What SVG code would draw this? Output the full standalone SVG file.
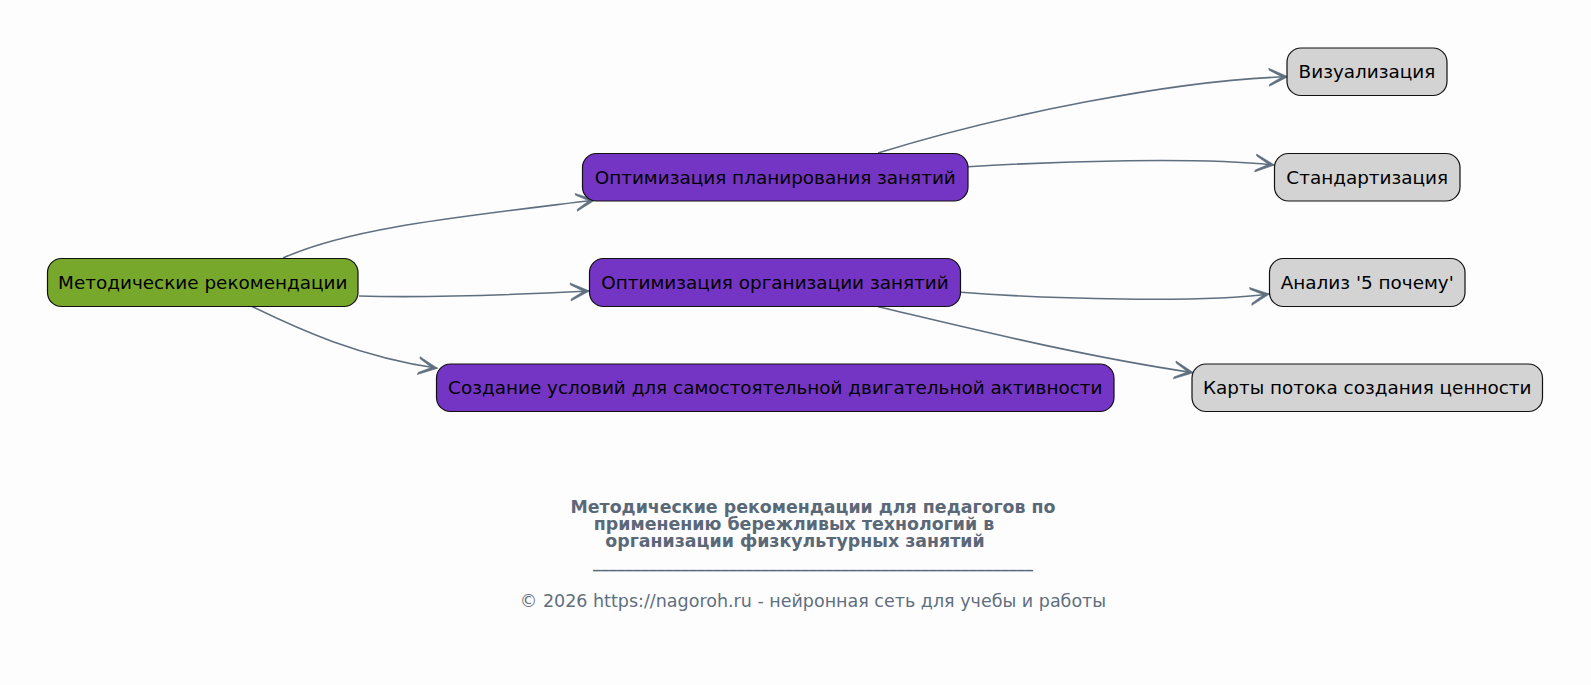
<svg xmlns="http://www.w3.org/2000/svg" width="1591" height="685" viewBox="0 0 1591 685">
<style>
.node rect{stroke:#111;stroke-width:1.2}
.root rect{fill:#78a82b}
.mid rect{fill:#7535c4}
.leaf rect{fill:#d3d3d3}
.node text{font-family:"DejaVu Sans",sans-serif;font-size:18.4px;fill:#000;text-anchor:middle;dominant-baseline:central}
.edges path{fill:none;stroke:#5f6f80;stroke-width:1.6}
.title{font-family:"DejaVu Sans",sans-serif;font-size:17.4px;font-weight:bold;fill:#5a6878;text-anchor:middle}
.uline{font-family:"DejaVu Sans",sans-serif;font-size:16px;font-weight:bold;fill:#5a6878;text-anchor:middle}
.copy{font-family:"DejaVu Sans",sans-serif;font-size:17.5px;fill:#5f6f80;text-anchor:middle}
</style>
<defs>
<marker id="arr" viewBox="-22 -12 24 24" refX="0" refY="0" markerWidth="24" markerHeight="24" markerUnits="userSpaceOnUse" orient="auto">
<path d="M0,0 L-19,-9 L-18.6,-7 L-6,0 L-18.6,7 L-19,9 Z" fill="#5f6f80" stroke="#5f6f80" stroke-width="0.6" stroke-linejoin="round"/>
</marker>
</defs>
<rect x="0" y="0" width="1591" height="685" fill="#fdfdfd"/>
<g id="edges" class="edges">
<path d="M283,258 C350,228 450,218 595,200" marker-end="url(#arr)"/>
<path d="M359,296 C430,298 510,295 589.5,291" marker-end="url(#arr)"/>
<path d="M252,306.5 C300,330 360,357 437.5,368.3" marker-end="url(#arr)"/>
<path d="M878,153 C1000,115 1175,80 1288,76.7" marker-end="url(#arr)"/>
<path d="M968,166.7 C1060,161 1200,157 1274.5,165" marker-end="url(#arr)"/>
<path d="M961,292.3 C1050,299 1200,303 1269.5,294" marker-end="url(#arr)"/>
<path d="M878,306.7 C960,326 1080,356 1193.5,372.7" marker-end="url(#arr)"/>
</g>
<g id="n-root" class="node root"><rect x="47.5" y="258.5" width="310.5" height="48" rx="14"/><text x="202.75" y="282.5">Методические рекомендации</text></g>
<g id="n-plan" class="node mid"><rect x="582.5" y="153.5" width="385.5" height="47.5" rx="14"/><text x="775.25" y="177.25">Оптимизация планирования занятий</text></g>
<g id="n-org" class="node mid"><rect x="589.5" y="258.5" width="371" height="48" rx="14"/><text x="775" y="282.5">Оптимизация организации занятий</text></g>
<g id="n-create" class="node mid"><rect x="436.5" y="364" width="677.5" height="47.5" rx="14"/><text x="775.25" y="387.75">Создание условий для самостоятельной двигательной активности</text></g>
<g id="n-vis" class="node leaf"><rect x="1287" y="48" width="160" height="47.5" rx="14"/><text x="1367" y="71.75">Визуализация</text></g>
<g id="n-std" class="node leaf"><rect x="1274.5" y="153.5" width="185.5" height="47.5" rx="14"/><text x="1367.25" y="177.25">Стандартизация</text></g>
<g id="n-an" class="node leaf"><rect x="1269.5" y="258.5" width="195.5" height="48" rx="14"/><text x="1367.25" y="282.5">Анализ '5 почему'</text></g>
<g id="n-kart" class="node leaf"><rect x="1192" y="364" width="350.5" height="47.5" rx="14"/><text x="1367.25" y="387.75">Карты потока создания ценности</text></g>
<g id="caption">
<text class="title" x="813" y="512.5">Методические рекомендации для педагогов по</text>
<text class="title" x="794" y="530">применению бережливых технологий в</text>
<text class="title" x="795" y="547">организации физкультурных занятий</text>
<text class="uline" x="813" y="568">_______________________________________________________</text>
<text class="copy" x="813" y="607">© 2026 https://nagoroh.ru - нейронная сеть для учебы и работы</text>
</g>
</svg>
